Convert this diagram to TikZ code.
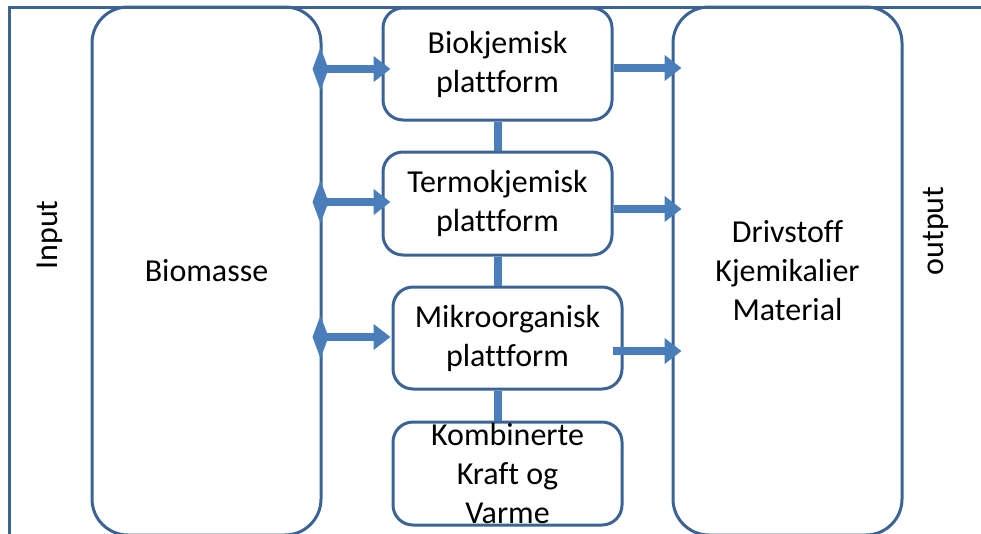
\documentclass[tikz,border=0pt]{standalone}
\usepackage{fontspec}
\setmainfont{Carlito}[Ligatures={NoCommon}]
\usetikzlibrary{arrows.meta,calc}
\definecolor{edgeblue}{HTML}{3B6396}
\definecolor{flowblue}{HTML}{4A7EBB}
\begin{document}
\begin{tikzpicture}[x=1pt,y=-1pt,
  txt/.style={font=\fontsize{32}{39}\selectfont},
  outline/.style={draw=edgeblue,line width=3pt},
  bigbox/.style={outline,txt,rounded corners=36pt,minimum width=229pt,
    minimum height=528pt,inner sep=0pt,align=center},
  platform/.style={outline,txt,rounded corners=20pt,minimum width=229pt,
    inner sep=0pt,align=center},
  feed/.style={draw=flowblue,fill=flowblue,line width=8pt,
    {Diamond[length=16pt,width=43pt]}-{Triangle[length=17pt,width=25pt]}},
  yieldarrow/.style={draw=flowblue,fill=flowblue,line width=8pt,
    -{Triangle[length=17pt,width=25pt]}},
  link/.style={draw=flowblue,line width=8pt}]
\useasboundingbox (0,0) rectangle (981,533);
\clip (0,0) rectangle (981,533);

% outer frame, open towards the lower right
\draw[outline] (9,600) -- (9,7) -- (1100,7);

% side labels
\node[txt,rotate=90] (inp) at (50,235) {Input};
\node[txt,rotate=90] (outp) at (936,231) {output};

% feedstock and products columns
\node[bigbox] (bio) at (206.5,271) {Biomasse};
\node[bigbox] (prod) at (787.5,271) {Drivstoff\\Kjemikalier\\Material};

% platforms
\node[platform,minimum height=112pt] (pb) at (497.5,64) {Biokjemisk\\plattform};
\node[platform,minimum height=103pt] (tp) at (497.5,203.5) {Termokjemisk\\plattform};
\node[platform,minimum height=102pt] (mp) at (507.5,338) {Mikroorganisk\\plattform};
\node[platform,minimum height=103pt] (kp) at (507.5,473.5) {Kombinerte\\Kraft og\\Varme};

% vertical links between platforms
\draw[link] (pb.south) -- (tp.north);
\draw[link] (tp.south) -- (tp.south |- mp.north);
\draw[link] (tp.south |- mp.south) -- (tp.south |- kp.north);

% feed arrows from the biomass column
\draw[feed] ($(bio.east |- pb.west)+(-10,5)$) -- ($(pb.west)+(9,5)$);
\draw[feed] ($(bio.east |- tp.west)+(-10,-1.5)$) -- ($(tp.west)+(9,-1.5)$);
\draw[feed] ($(bio.east |- mp.west)+(-10,-1)$) -- ($(mp.west)+(-1,-1)$);

% product arrows
\draw[yieldarrow] ($(pb.east)+(0,4)$) -- ($(prod.west |- pb.east)+(10,4)$);
\draw[yieldarrow] ($(tp.east)+(0,5.5)$) -- ($(prod.west |- tp.east)+(10,5.5)$);
\draw[yieldarrow] ($(mp.east)+(-11,13)$) -- ($(prod.west |- mp.east)+(10,13)$);
\end{tikzpicture}
\end{document}
